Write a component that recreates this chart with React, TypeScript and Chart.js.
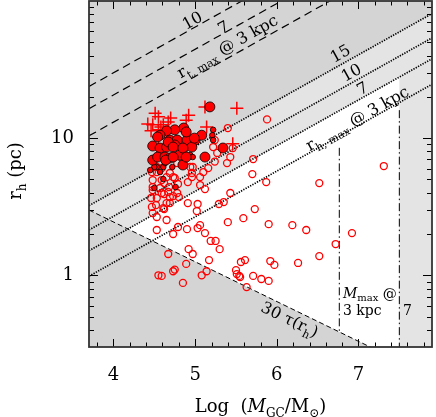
import React, { useEffect, useRef } from "react";
import { Chart, registerables } from "chart.js";

Chart.register(...registerables);

const SERIF = '"DejaVu Serif", "DejaVu Sans", serif';

// ---- axes ----
const xRange = [3.7, 7.9];
const yRange = [0.3, 100];
const xTickLabels = [4, 5, 6, 7];
const xMinorTicks = [3.8, 4.2, 4.4, 4.6, 4.8, 5.2, 5.4, 5.6, 5.8, 6.2, 6.4, 6.6, 6.8, 7.2, 7.4, 7.6, 7.8];
const yTickLabels = [1, 10];
const yMinorTicks = [0.4, 0.5, 0.6, 0.7, 0.8, 0.9, 2, 3, 4, 5, 6, 7, 8, 9, 20, 30, 40, 50, 60, 70, 80, 90];

// ---- model lines [logM, r_h] ----
const tidalLines = [
  { label: "10", pts: [[3.7, 23.8], [7.9, 598]] },
  { label: "7", pts: [[3.7, 16.4], [7.9, 412]] },
  { label: "3", pts: [[3.7, 10.4], [7.9, 261]] },
];
const halfMassLines = [
  { label: "15", pts: [[3.7, 3.22], [7.9, 80.9]] },
  { label: "10", pts: [[3.7, 2.14], [7.9, 53.8]] },
  { label: "7", pts: [[3.7, 1.51], [7.9, 37.9]] },
  { label: "3", pts: [[3.7, 0.985], [7.9, 24.7]] },
];
const relaxLine = [[3.7, 2.99], [7.9, 0.181]];
const massLimitLines = [
  { label: "3", pts: [[6.765, 8.5], [6.765, 0.39]] },
  { label: "7", pts: [[7.5, 16], [7.5, 0.3]] },
];

// ---- clusters [logM, r_h (pc)] ----
const openCircles = [
  [5.70, 5.47], [5.87, 4.78], [6.52, 4.70], [5.73, 3.04], [5.59, 2.61], [5.90, 2.36], [6.19, 2.32], [6.36, 2.14],
  [6.92, 2.03], [6.72, 1.69], [6.52, 1.38], [5.61, 1.29], [5.56, 1.25], [5.92, 1.27], [5.97, 1.19], [6.26, 1.23],
  [5.55, 0.97], [5.71, 0.99], [5.81, 0.94], [5.90, 0.91], [5.63, 0.82], [7.31, 6.26], [5.88, 13.7], [5.71, 7.04],
  [4.47, 5.66], [5.10, 5.66], [4.48, 4.95], [4.59, 4.95], [4.75, 5.12], [4.91, 4.78], [5.06, 4.55], [5.12, 4.25],
  [5.06, 5.20], [4.48, 4.40], [4.57, 4.33], [4.67, 4.05], [4.78, 3.98], [4.46, 3.66], [4.69, 3.72], [4.59, 3.98],
  [5.43, 3.98], [4.52, 3.25], [4.69, 3.36], [4.91, 3.36], [5.03, 3.31], [5.29, 3.31], [5.35, 3.42], [4.47, 3.15],
  [4.62, 3.04], [5.02, 2.94], [4.53, 2.66], [4.65, 2.53], [4.48, 2.84], [5.40, 2.44], [5.06, 2.32], [4.79, 2.25],
  [4.90, 2.17], [5.03, 2.21], [5.12, 2.03], [4.53, 2.14], [4.73, 2.00], [5.19, 1.78], [5.25, 1.78], [5.30, 1.55],
  [4.92, 1.55], [4.97, 1.43], [4.67, 1.43], [5.17, 1.29], [4.89, 1.21], [5.50, 1.09], [5.51, 1.02], [5.54, 0.99],
  [5.14, 1.07], [5.08, 1.00], [4.75, 1.10], [4.73, 1.07], [4.55, 1.00], [4.59, 0.99], [4.85, 0.88],
  [5.40, 11.85], [5.24, 9.68], [5.22, 8.61], [5.27, 7.8], [5.46, 8.47], [5.43, 7.28], [5.24, 6.75], [5.39, 6.58],
  [4.94, 6.16], [4.96, 5.57], [4.78, 6.58], [4.69, 5.57], [4.59, 6.05], [4.53, 6.16], [5.16, 6.05], [4.53, 5.66],
  [4.65, 5.20], [4.73, 5.20], [4.79, 4.63], [4.96, 5.20], [4.97, 6.16], [4.62, 4.70], [4.68, 4.40], [4.48, 4.18],
  [4.53, 3.66], [4.62, 3.91], [4.73, 3.78], [4.80, 3.72], [4.65, 3.36], [4.61, 3.09],
];
const filledLarge = [
  [5.18, 16.9], [4.86, 11.85], [4.75, 11.5], [4.65, 11.3], [4.57, 10.5], [4.69, 9.68], [4.78, 9.68], [4.48, 8.76],
  [4.57, 8.47], [4.65, 8.61], [4.75, 8.91], [4.90, 9.68], [5.00, 9.68], [5.08, 10.5], [4.96, 8.61], [4.81, 7.53],
  [4.48, 6.92], [4.54, 7.28], [4.63, 7.28], [4.69, 7.16], [4.85, 6.37], [5.12, 7.28], [5.34, 8.47], [4.54, 10.2],
  [4.67, 9.37], [4.73, 8.61], [4.85, 8.47], [4.89, 7.28], [4.64, 6.92], [4.73, 7.28], [4.89, 11.1], [4.99, 10.0],
];
const filledSmall = [
  [5.22, 11.5], [5.21, 10.5], [5.22, 9.68], [4.94, 7.53], [4.97, 7.28], [4.53, 6.16], [4.50, 6.16], [4.61, 6.16],
  [4.72, 6.16], [4.61, 5.03], [4.76, 4.40], [4.50, 4.33], [4.45, 5.85], [4.57, 5.66], [4.63, 6.58],
];
const crosses = [
  [4.42, 12.7], [4.48, 12.5], [4.55, 14.3], [4.51, 15.2], [4.67, 13.1], [4.70, 14.0], [4.89, 13.5], [4.92, 14.7],
  [4.58, 12.05], [4.55, 11.5], [4.61, 12.5], [5.12, 16.9], [5.51, 16.5], [5.14, 12.05], [5.46, 9.1], [4.55, 10.2],
  [4.46, 11.3],
];

// ---- annotations (anchored in data coords) ----
type Part = [string, "n" | "s" | "i"];
const annotations: { parts: Part[]; at: number[]; size: number; rot: "tidal" | "relax" | "none"; align: "center" | "left" }[] = [
  { parts: [["10", "n"]], at: [4.961, 72.7], size: 16, rot: "tidal", align: "center" },
  { parts: [["7", "n"]], at: [5.341, 64.6], size: 16, rot: "tidal", align: "center" },
  { parts: [["r", "n"], ["t, max", "s"], [" @ 3 kpc", "n"]], at: [5.39, 47.0], size: 16, rot: "tidal", align: "center" },
  { parts: [["15", "n"]], at: [6.773, 41.8], size: 16, rot: "tidal", align: "center" },
  { parts: [["10", "n"]], at: [6.908, 30.3], size: 16, rot: "tidal", align: "center" },
  { parts: [["7", "n"]], at: [7.043, 23.2], size: 16, rot: "tidal", align: "center" },
  { parts: [["r", "n"], ["h, max", "s"], [" @ 3 kpc", "n"]], at: [6.981, 14.0], size: 16, rot: "tidal", align: "center" },
  { parts: [["30 τ(r", "n"], ["h", "s"], [")", "n"]], at: [6.161, 0.479], size: 16, rot: "relax", align: "center" },
  { parts: [["M", "i"], ["max", "s"], [" @", "n"]], at: [6.81, 0.688], size: 14, rot: "none", align: "left" },
  { parts: [["3 kpc", "n"]], at: [6.81, 0.513], size: 14, rot: "none", align: "left" },
  { parts: [["7", "n"]], at: [7.545, 0.513], size: 14, rot: "none", align: "left" },
];

const DARK = "#d4d4d4";
const LIGHT = "#e4e4e4";

function drawParts(ctx: CanvasRenderingContext2D, parts: Part[], size: number, x: number, y: number, align: string) {
  const sub = Math.round(size * 0.68);
  const fontOf = (k: string) =>
    k === "s" ? `${sub}px ${SERIF}` : k === "i" ? `italic ${size}px ${SERIF}` : `${size}px ${SERIF}`;
  let w = 0;
  for (const [t, k] of parts) {
    ctx.font = fontOf(k);
    w += ctx.measureText(t).width;
  }
  let cx = align === "center" ? x - w / 2 : x;
  ctx.textAlign = "left";
  ctx.textBaseline = "alphabetic";
  for (const [t, k] of parts) {
    ctx.font = fontOf(k);
    ctx.fillText(t, cx, y + (k === "s" ? size * 0.28 : 0));
    cx += ctx.measureText(t).width;
  }
}

const regionsPlugin = {
  id: "regions",
  beforeDatasetsDraw(chart: any) {
    const { ctx, chartArea: a, scales } = chart;
    const X = (v: number) => scales.x.getPixelForValue(v);
    const Y = (v: number) => scales.y.getPixelForValue(v);
    const below = (pts: number[][]) => {
      ctx.beginPath();
      ctx.moveTo(X(pts[0][0]), Y(pts[0][1]));
      ctx.lineTo(X(pts[1][0]), Y(pts[1][1]));
      ctx.lineTo(X(pts[1][0]), a.bottom + 50);
      ctx.lineTo(X(pts[0][0]), a.bottom + 50);
      ctx.closePath();
    };
    const above = (pts: number[][]) => {
      ctx.beginPath();
      ctx.moveTo(X(pts[0][0]), Y(pts[0][1]));
      ctx.lineTo(X(pts[1][0]), Y(pts[1][1]));
      ctx.lineTo(X(pts[1][0]), a.top - 50);
      ctx.lineTo(X(pts[0][0]), a.top - 50);
      ctx.closePath();
    };
    ctx.save();
    ctx.beginPath();
    ctx.rect(a.left, a.top, a.right - a.left, a.bottom - a.top);
    ctx.clip();
    ctx.fillStyle = DARK;
    ctx.fillRect(a.left, a.top, a.right - a.left, a.bottom - a.top);
    ctx.save();
    below(halfMassLines[0].pts);
    ctx.clip();
    above(relaxLine);
    ctx.clip();
    ctx.fillStyle = LIGHT;
    ctx.fillRect(a.left, a.top, a.right - a.left, a.bottom - a.top);
    ctx.restore();
    ctx.save();
    below(halfMassLines[2].pts);
    ctx.clip();
    above(relaxLine);
    ctx.clip();
    ctx.beginPath();
    ctx.rect(a.left, a.top, X(massLimitLines[1].pts[0][0]) - a.left, a.bottom - a.top);
    ctx.clip();
    ctx.fillStyle = "#ffffff";
    ctx.fillRect(a.left, a.top, a.right - a.left, a.bottom - a.top);
    ctx.restore();
    ctx.restore();
  },
};

const annotationPlugin = {
  id: "annot",
  afterDatasetsDraw(chart: any) {
    const { ctx, scales } = chart;
    const X = (v: number) => scales.x.getPixelForValue(v);
    const Y = (v: number) => scales.y.getPixelForValue(v);
    const angleOf = (pts: number[][]) =>
      Math.atan2(Y(pts[1][1]) - Y(pts[0][1]), X(pts[1][0]) - X(pts[0][0]));
    ctx.save();
    ctx.fillStyle = "#000";
    for (const an of annotations) {
      const px = X(an.at[0]);
      const py = Y(an.at[1]);
      ctx.save();
      ctx.translate(px, py);
      if (an.rot === "tidal") ctx.rotate(angleOf(halfMassLines[0].pts));
      if (an.rot === "relax") ctx.rotate(angleOf(relaxLine));
      const dy = an.rot === "none" ? 0 : an.size * 0.36;
      drawParts(ctx, an.parts, an.size, 0, dy, an.align);
      ctx.restore();
    }
    ctx.restore();
  },
  afterDraw(chart: any) {
    const { ctx, chartArea: a, scales } = chart;
    const X = (v: number) => scales.x.getPixelForValue(v);
    const Y = (v: number) => scales.y.getPixelForValue(v);
    ctx.save();
    ctx.strokeStyle = "#000";
    ctx.lineWidth = 1;
    const seg = (x1: number, y1: number, x2: number, y2: number) => {
      ctx.beginPath();
      ctx.moveTo(x1, y1);
      ctx.lineTo(x2, y2);
      ctx.stroke();
    };
    const xs = [...xTickLabels.map((v) => [v, 8]), ...xMinorTicks.map((v) => [v, 4.5])];
    for (const [v, len] of xs) {
      const p = Math.round(X(v)) + 0.5;
      seg(p, a.bottom, p, a.bottom - len);
      seg(p, a.top, p, a.top + len);
    }
    const ys = [...yTickLabels.map((v) => [v, 9]), ...yMinorTicks.map((v) => [v, 5])];
    for (const [v, len] of ys) {
      const p = Math.round(Y(v)) + 0.5;
      seg(a.left, p, a.left + len, p);
      seg(a.right, p, a.right - len, p);
    }
    ctx.strokeStyle = "#333";
    ctx.lineWidth = 1.8;
    ctx.strokeRect(a.left, a.top, a.right - a.left, a.bottom - a.top);
    ctx.fillStyle = "#000";
    drawParts(
      ctx,
      [["Log  (", "n"], ["M", "i"], ["GC", "s"], ["/M", "n"], ["⊙", "s"], [")", "n"]],
      18,
      (a.left + a.right) / 2,
      412,
      "center"
    );
    ctx.save();
    ctx.translate(21, 171);
    ctx.rotate(-Math.PI / 2);
    drawParts(ctx, [["r", "n"], ["h", "s"], [" (pc)", "n"]], 18, 0, 0, "center");
    ctx.restore();
    ctx.restore();
  },
};

const toXY = (arr: number[][]) => arr.map(([x, y]) => ({ x, y }));

export default function App() {
  const ref = useRef<HTMLCanvasElement>(null);
  useEffect(() => {
    document.body.style.margin = "0";
    const lineDs = (pts: number[][], dash: number[], width: number) => ({
      data: toXY(pts),
      showLine: true,
      borderColor: "#000",
      borderWidth: width,
      borderDash: dash,
      pointRadius: 0,
      fill: false,
      tension: 0,
      order: 10,
    });
    const datasets: any[] = [
      {
        data: toXY(filledLarge),
        pointStyle: "circle",
        pointRadius: 5,
        backgroundColor: "#ff0000",
        borderColor: "#000",
        borderWidth: 0.8,
        order: 1,
      },
      {
        data: toXY(filledSmall),
        pointStyle: "circle",
        pointRadius: 2.8,
        backgroundColor: "#ff0000",
        borderColor: "#000",
        borderWidth: 0.8,
        order: 1,
      },
      {
        data: toXY(crosses),
        pointStyle: "cross",
        pointRadius: 6.5,
        backgroundColor: "#ff0000",
        borderColor: "#ff0000",
        borderWidth: 1.5,
        order: 2,
      },
      {
        data: toXY(openCircles),
        pointStyle: "circle",
        pointRadius: 3.5,
        backgroundColor: "rgba(0,0,0,0)",
        borderColor: "#ff0000",
        borderWidth: 1.3,
        order: 3,
      },
      ...tidalLines.map((l) => lineDs(l.pts, [8, 5], 1.2)),
      ...halfMassLines.map((l) => lineDs(l.pts, [1.3, 1.3], 1.7)),
      lineDs(relaxLine, [5, 3], 1),
      ...massLimitLines.map((l) => lineDs(l.pts, [8, 3, 1.5, 3], 1)),
    ];
    const chart = new Chart(ref.current!, {
      type: "scatter",
      data: { datasets },
      options: {
        animation: false,
        responsive: true,
        maintainAspectRatio: false,
        devicePixelRatio: 1,
        events: [],
        layout: { autoPadding: false, padding: { left: 0, right: 4, top: 1, bottom: 0 } },
        plugins: { legend: { display: false }, tooltip: { enabled: false } },
        scales: {
          x: {
            type: "linear",
            min: xRange[0],
            max: xRange[1],
            grid: { display: false, drawTicks: false },
            border: { display: false },
            afterBuildTicks: (s: any) => {
              s.ticks = xTickLabels.map((v) => ({ value: v }));
            },
            afterFit: (s: any) => {
              s.height = 70;
              s.paddingLeft = 0;
              s.paddingRight = 0;
            },
            ticks: {
              padding: 18,
              color: "#000",
              font: { family: SERIF, size: 18 },
              callback: (v: any) => String(v),
            },
          },
          y: {
            type: "logarithmic",
            min: yRange[0],
            max: yRange[1],
            grid: { display: false, drawTicks: false },
            border: { display: false },
            afterBuildTicks: (s: any) => {
              s.ticks = yTickLabels.map((v) => ({ value: v }));
            },
            afterFit: (s: any) => {
              s.width = 89;
              s.paddingTop = 0;
              s.paddingBottom = 0;
            },
            ticks: {
              padding: 15,
              color: "#000",
              font: { family: SERIF, size: 18 },
              callback: (v: any) => String(v),
            },
          },
        },
      },
      plugins: [regionsPlugin, annotationPlugin],
    });
    return () => chart.destroy();
  }, []);
  return (
    <div style={{ width: 436, height: 417, position: "relative" }}>
      <canvas ref={ref} />
    </div>
  );
}
